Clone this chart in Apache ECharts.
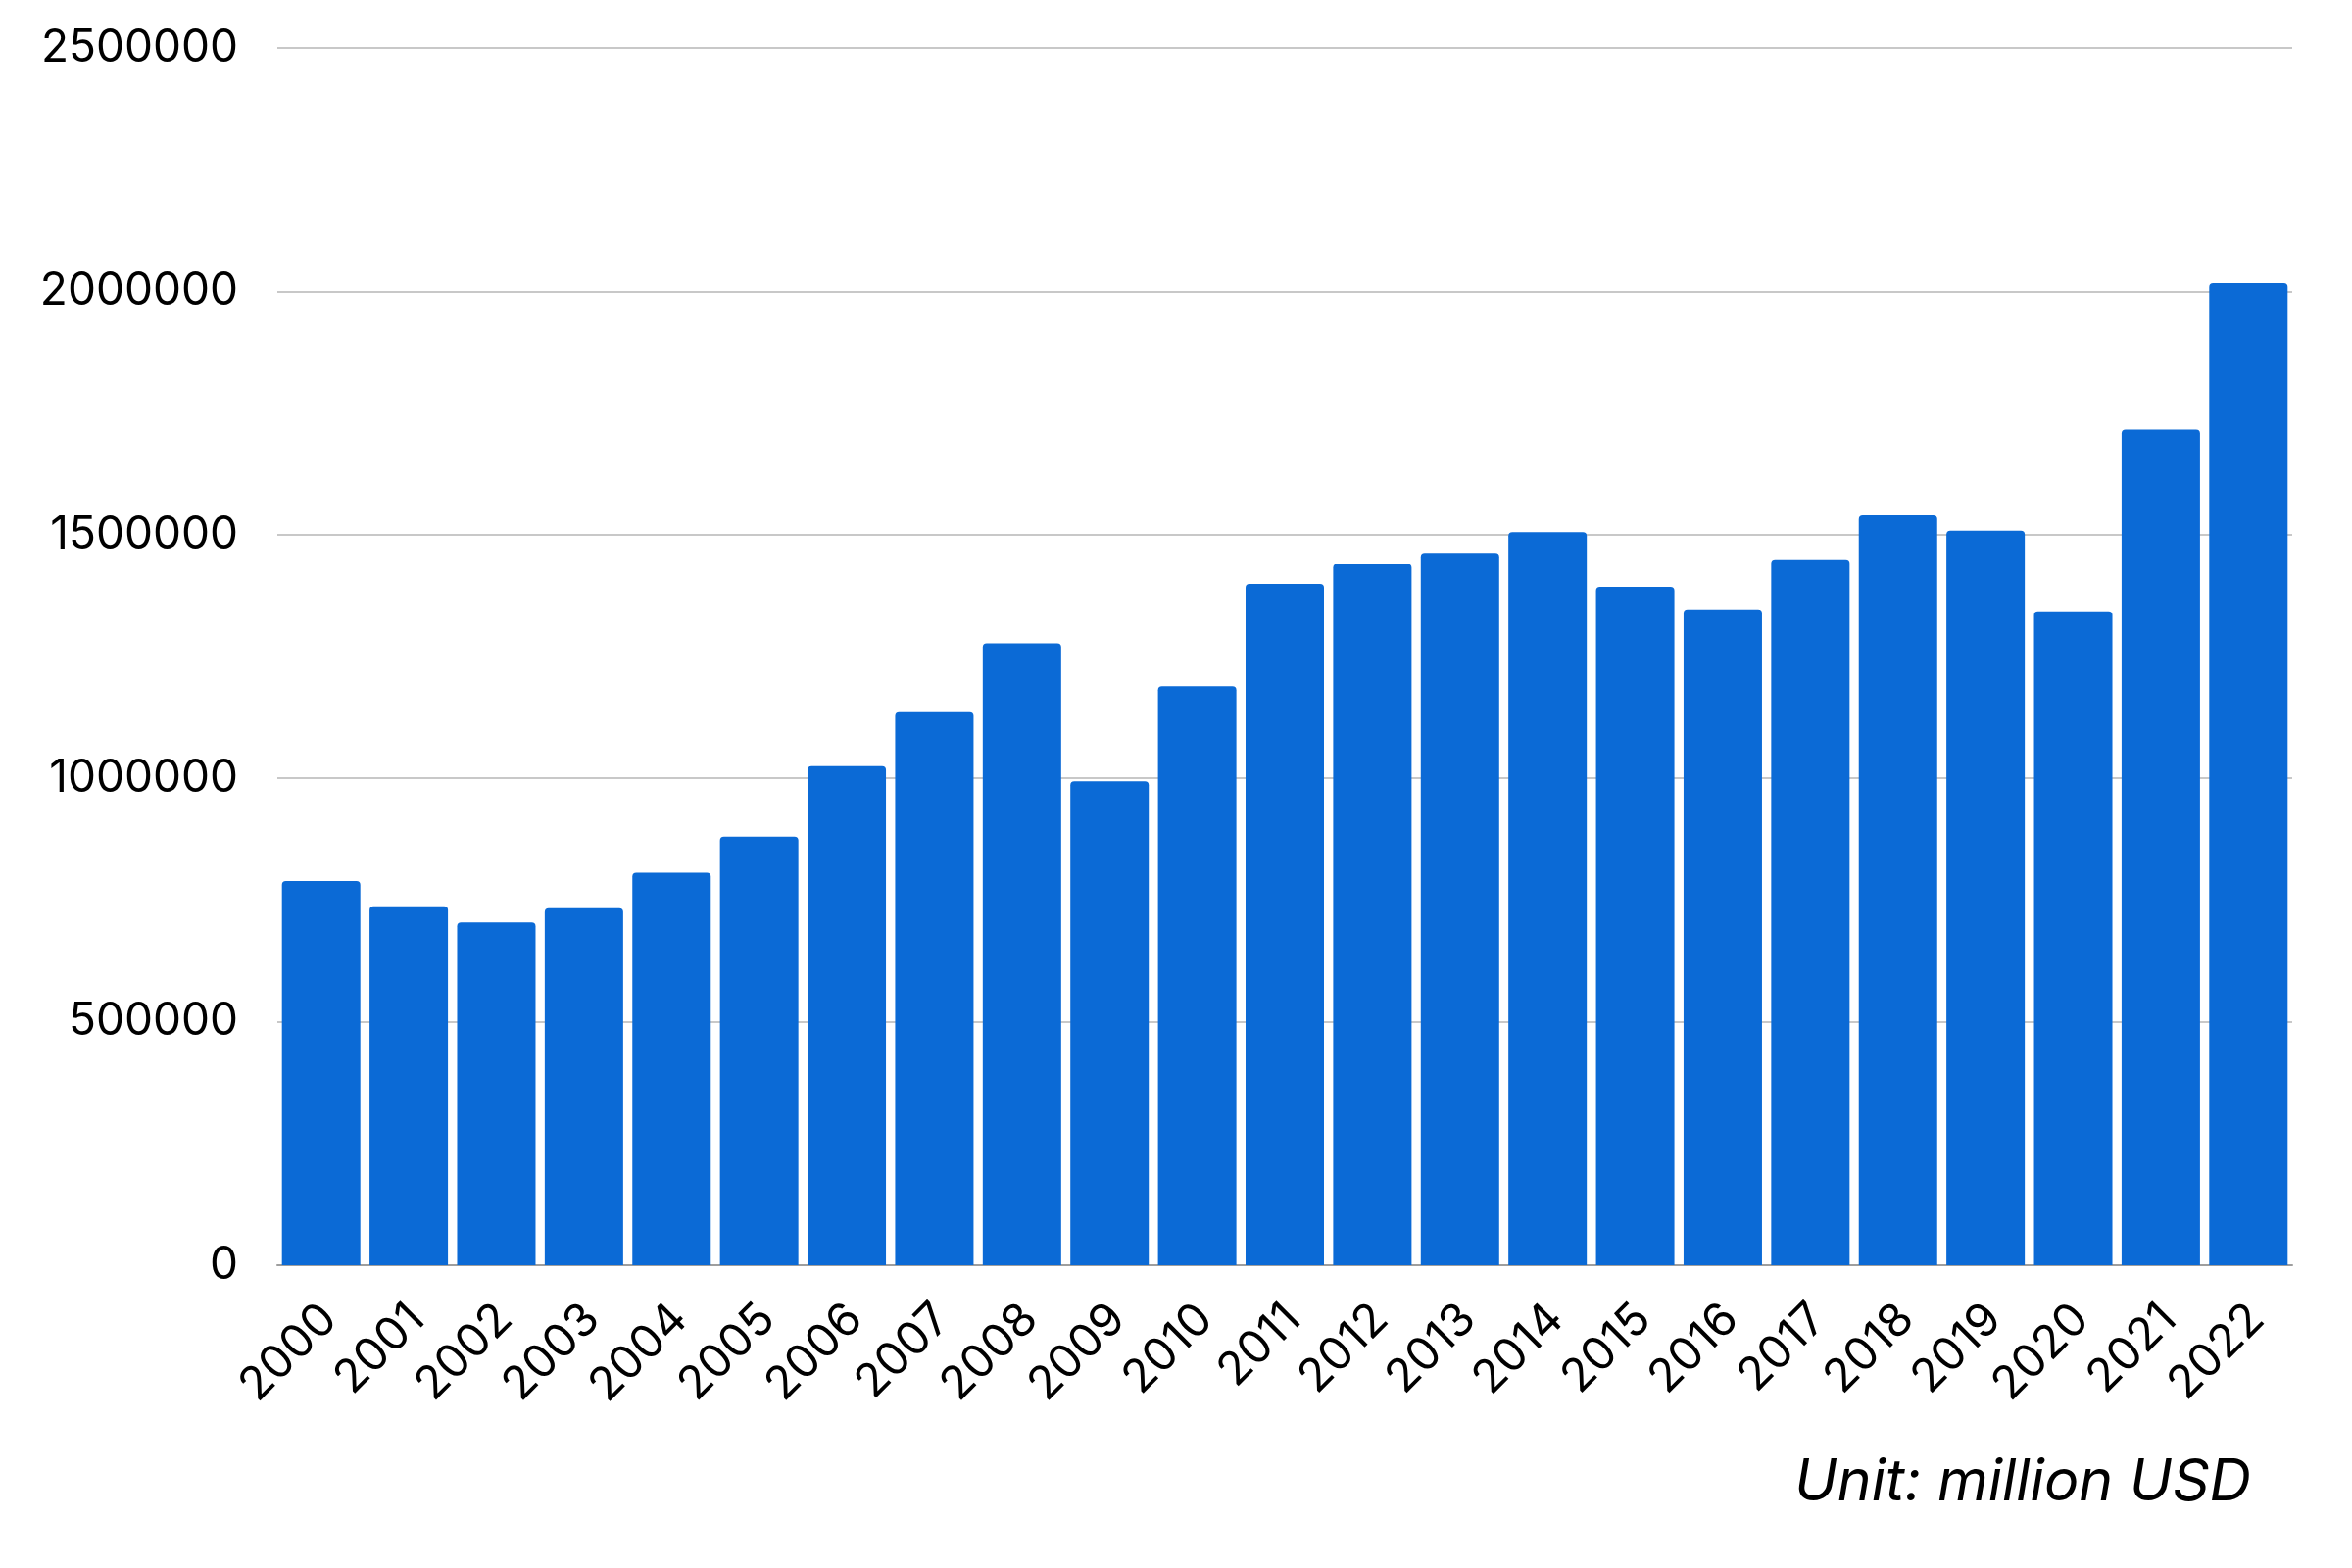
<!DOCTYPE html>
<html>
<head>
<meta charset="utf-8">
<title>Unit: million USD</title>
<script src="https://cdn.jsdelivr.net/npm/echarts@6/dist/echarts.min.js"></script>
<style>
  html, body { margin: 0; padding: 0; background: #fff; }
  #chart { width: 2400px; height: 1600px; }
</style>
</head>
<body>
<div id="chart"></div>
<script>
// years on the x axis
var years = ['2000', '2001', '2002', '2003', '2004', '2005', '2006', '2007',
  '2008', '2009', '2010', '2011', '2012', '2013', '2014', '2015', '2016',
  '2017', '2018', '2019', '2020', '2021', '2022'];

// values (million USD)
var values = [789000, 737000, 704000, 733000, 806000, 880000, 1025000, 1136000,
  1277000, 994000, 1189000, 1399000, 1440000, 1463000, 1505000, 1393000, 1347000,
  1450000, 1540000, 1508000, 1343000, 1716000, 2017000];

var unitText = 'Unit: million USD';

var chart = echarts.init(document.getElementById('chart'));

var option = {
  backgroundColor: '#ffffff',
  animation: false,
  grid: {
    left: 283,
    right: 61,
    top: 49,
    bottom: 309
  },
  xAxis: {
    type: 'category',
    data: years,
    axisLine: { lineStyle: { color: '#9e9e9e', width: 2 } },
    axisTick: { show: false },
    axisLabel: {
      interval: 0,
      rotate: 45,
      margin: 56,
      padding: [0, -12, 0, 0],
      color: '#000',
      fontFamily: 'Inter',
      fontSize: 47
    }
  },
  yAxis: {
    type: 'value',
    min: 0,
    max: 2500000,
    interval: 500000,
    axisLine: { show: false },
    axisTick: { show: false },
    splitLine: { lineStyle: { color: '#c8c8c8', width: 2 } },
    axisLabel: {
      margin: 40,
      color: '#000',
      fontFamily: 'Inter',
      fontSize: 46,
      formatter: function (v) { return String(v); }
    }
  },
  series: [{
    type: 'bar',
    data: values,
    barCategoryGap: '10.5%',
    itemStyle: {
      color: '#0b6ad6',
      borderRadius: [4, 4, 0, 0]
    }
  }],
  graphic: [{
    type: 'text',
    right: 103,
    top: 1484,
    style: {
      text: unitText,
      fill: '#000',
      font: 'italic 59px Inter'
    }
  }]
};

chart.setOption(option);
</script>
</body>
</html>
